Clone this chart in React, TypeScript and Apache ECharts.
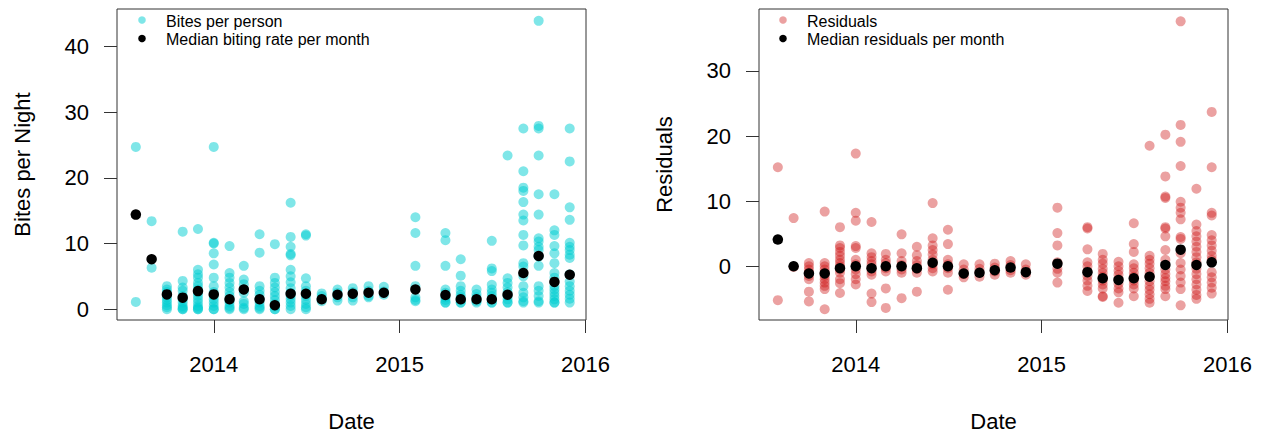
import React, { useEffect, useRef } from "react";
import * as echarts from "echarts";

// ---- data ----
const months = [
  "2013-08-01", "2013-09-01", "2013-10-01", "2013-11-01", "2013-12-01",
  "2014-01-01", "2014-02-01", "2014-03-01", "2014-04-01", "2014-05-01",
  "2014-06-01", "2014-07-01", "2014-08-01", "2014-09-01", "2014-10-01",
  "2014-11-01", "2014-12-01", "2015-02-01", "2015-04-01", "2015-05-01",
  "2015-06-01", "2015-07-01", "2015-08-01", "2015-09-01", "2015-10-01",
  "2015-11-01", "2015-12-01",
];

const bitesPerPerson: number[][] = [
  [24.7, 1.1],
  [13.4, 6.3],
  [3.5, 3.0, 2.6, 2.2, 1.8, 1.4, 1.0, 0.6, 0.3, 0],
  [11.8, 4.3, 3.3, 2.8, 2.0, 1.5, 1.0, 0.5, 0.2, 0, 0],
  [12.2, 6.0, 5.3, 4.8, 4.0, 3.5, 3.0, 2.5, 2.0, 1.5, 1.0, 0.5, 0.2, 0, 0],
  [24.7, 10.1, 10.0, 8.5, 6.8, 4.8, 3.5, 2.6, 2.0, 1.5, 1.0, 0.5, 0, 0],
  [9.6, 5.5, 4.8, 4.0, 3.3, 2.6, 2.0, 1.4, 1.0, 0.5, 0.2, 0],
  [6.6, 4.5, 3.8, 3.0, 2.5, 1.2, 0.8, 0.2, 0],
  [11.4, 8.6, 3.5, 2.8, 2.2, 1.6, 1.0, 0.5, 0.2, 0],
  [9.9, 4.8, 4.0, 3.3, 2.6, 2.0, 1.4, 0.8, 0.4, 0, 0],
  [16.2, 11.0, 9.5, 8.4, 8.2, 6.0, 5.0, 4.1, 3.2, 2.5, 2.0, 1.5, 1.0, 0.5, 0],
  [11.4, 11.2, 4.7, 3.5, 2.8, 2.0, 1.4, 0.8, 0.3, 0],
  [2.4, 2.0, 1.6, 1.2],
  [3.0, 2.5, 1.8, 1.3],
  [3.2, 2.6, 1.8, 1.3],
  [3.5, 2.8, 2.0, 1.8],
  [3.4, 2.7, 2.2],
  [14.0, 11.6, 6.6, 3.5, 1.8, 1.4, 1.2],
  [11.6, 10.5, 6.6, 3.0, 2.5, 1.8, 1.4, 1.0, 1.0],
  [7.6, 5.1, 3.5, 2.8, 2.2, 1.8, 1.4, 1.0, 1.0],
  [3.0, 2.3, 1.8, 1.2, 1.0],
  [10.4, 6.2, 5.8, 3.7, 3.0, 2.5, 2.0, 1.5, 1.0, 1.0],
  [23.4, 4.7, 4.0, 3.3, 2.6, 2.0, 1.5, 1.0, 1.0],
  [27.5, 21.0, 18.5, 18.0, 16.3, 14.4, 13.5, 11.3, 9.7, 7.0, 6.5, 5.0, 3.5, 2.5, 1.8, 1.2, 1.0],
  [43.9, 27.9, 27.5, 23.4, 17.5, 14.4, 10.8, 10.3, 9.5, 9.0, 8.0, 6.6, 3.5, 2.8, 2.0, 1.2, 1.0],
  [17.5, 12.0, 11.3, 9.6, 8.5, 7.0, 5.5, 4.8, 3.5, 3.0, 2.5, 2.0, 1.5, 1.0, 1.0],
  [27.5, 22.5, 15.5, 13.6, 10.1, 9.5, 9.0, 8.3, 7.8, 5.3, 4.2, 3.5, 2.8, 2.2, 1.6, 1.0],
];

const medianBitingRate = [
  14.4, 7.6, 2.25, 1.75, 2.75, 2.25, 1.5, 3.0, 1.5, 0.6, 2.35, 2.35, 1.5, 2.2,
  2.35, 2.5, 2.5, 3.0, 2.15, 1.5, 1.5, 1.5, 2.2, 5.5, 8.1, 4.15, 5.25,
];

const residuals: number[][] = [
  [15.2, -5.2],
  [7.4, -0.1],
  [0.5, 0, -0.5, -1.0, -1.5, -2.0, -3.9, -5.4],
  [8.4, 0.5, 0, -0.5, -1.0, -1.5, -2.0, -2.5, -3.0, -3.5, -6.6],
  [6.0, 3.2, 2.8, 2.2, 1.6, 1.0, 0.5, 0, -0.5, -1.0, -2.0, -2.6, -4.1],
  [17.3, 8.2, 7.0, 3.1, 2.8, 1.0, 0.3, -0.5, -1.2, -2.0, -2.8],
  [6.8, 2.0, 1.4, 0.8, 0.3, -0.3, -0.8, -1.3, -4.2, -5.5],
  [1.9, 1.0, 0.5, -0.3, -0.8, -3.4, -6.4],
  [4.9, 2.0, 0.8, 0.2, -0.5, -1.0, -4.9],
  [3.0, 1.7, 0.8, 0.2, -0.4, -1.0, -3.9],
  [9.7, 4.3, 3.2, 2.5, 1.8, 1.0, 0.3, -0.3, -0.8],
  [5.6, 3.4, 1.0, 0.3, -0.3, -1.0, -3.6],
  [0.3, -0.5, -1.2, -1.7],
  [0.3, -0.4, -1.0, -1.6],
  [0.4, -0.2, -0.8, -1.3],
  [0.8, 0.2, -0.6, -1.0],
  [0.3, -0.5, -1.3],
  [9.0, 5.1, 3.2, 0.6, -0.4, -1.0, -2.5],
  [6.0, 5.8, 2.6, 0.6, 0, -0.8, -1.5, -2.2, -3.0, -3.8],
  [1.9, 1.0, 0.4, -0.4, -1.0, -1.6, -2.2, -2.8, -3.4, -4.6, -4.7],
  [0.7, 0, -0.7, -1.3, -2.0, -2.7, -3.4, -4.0, -5.6],
  [6.6, 3.4, 2.2, 0.3, -0.3, -1.0, -1.6, -2.2, -2.8, -3.4, -4.6],
  [18.5, 1.6, 1.0, 0.4, -0.3, -1.0, -1.6, -2.3, -3.0, -3.6, -4.3, -5.0, -5.6],
  [20.2, 13.8, 10.7, 10.5, 6.0, 5.8, 4.6, 2.5, 1.0, -0.5, -1.2, -1.8, -2.3, -3.0, -3.5, -4.6],
  [37.6, 21.7, 19.1, 15.4, 9.9, 9.0, 8.2, 7.2, 4.5, 4.2, 2.0, 0.5, -0.5, -1.5, -2.5, -3.5, -6.0],
  [11.9, 6.4, 5.4, 4.6, 3.8, 3.0, 2.2, 1.4, 0.6, -0.4, -1.2, -2.0, -2.8, -3.6, -4.4, -5.0],
  [23.7, 15.2, 8.2, 7.8, 4.8, 4.0, 3.2, 2.4, 1.6, 1.0, -0.9, -1.7, -2.5, -3.3, -4.2],
];

const medianResiduals = [
  4.1, 0.0, -1.1, -1.1, -0.3, 0.0, -0.3, 0.0, 0.0, -0.3, 0.55, 0.0, -1.1, -1.0,
  -0.6, -0.2, -0.9, 0.4, -0.9, -1.85, -2.1, -1.85, -1.6, 0.2, 2.55, 0.2, 0.6,
];

const yearTicks = ["2014-01-01", "2015-01-01", "2016-01-01"];
const biteTicks = [0, 10, 20, 30, 40];
const residualTicks = [0, 10, 20, 30];

// ---- styling ----
const FONT = "'Liberation Sans', Arial, Helvetica, sans-serif";
const CYAN = "rgba(0, 206, 209, 0.5)";
const RED = "rgba(205, 20, 20, 0.4)";
const BOX = "#333";

const ts = (d: string) => Date.parse(d + "T00:00:00Z");

const scatterData = (groups: number[][]) =>
  groups.flatMap((vals, i) => vals.map((v) => [ts(months[i]), v]));
const medianData = (vals: number[]) => vals.map((v, i) => [ts(months[i]), v]);

function makeXAxis(gridIndex: number) {
  const ticks = yearTicks.map(ts);
  return {
    type: "value",
    gridIndex,
    min: ts("2013-06-25"),
    max: ts("2016-01-02"),
    name: "Date",
    nameLocation: "middle",
    nameGap: 90,
    nameTextStyle: { fontFamily: FONT, fontSize: 22, color: "#000" },
    axisLine: { show: false, onZero: false },
    axisTick: { show: true, length: 13, customValues: ticks, lineStyle: { color: BOX, width: 1 } },
    axisLabel: {
      customValues: ticks,
      formatter: (v: number) => String(new Date(v).getUTCFullYear()),
      fontFamily: FONT,
      fontSize: 22,
      color: "#000",
      margin: 33,
    },
    splitLine: { show: false },
  };
}

function makeYAxis(gridIndex: number, name: string, min: number, max: number, ticks: number[]) {
  return {
    type: "value",
    gridIndex,
    min,
    max,
    name,
    nameLocation: "middle",
    nameGap: 84,
    nameTextStyle: { fontFamily: FONT, fontSize: 22, color: "#000" },
    axisLine: { show: false, onZero: false },
    axisTick: { show: true, length: 13, customValues: ticks, lineStyle: { color: BOX, width: 1 } },
    axisLabel: {
      customValues: ticks,
      fontFamily: FONT,
      fontSize: 22,
      color: "#000",
      margin: 28,
    },
    splitLine: { show: false },
  };
}

function legendGraphics(x: number, color: string, label1: string, label2: string) {
  const textStyle = {
    font: `16px ${FONT}`,
    fill: "#000",
    verticalAlign: "middle",
    align: "left",
  };
  return [
    { type: "circle", shape: { cx: x, cy: 20, r: 3.8 }, style: { fill: color } },
    { type: "circle", shape: { cx: x, cy: 38.5, r: 3.8 }, style: { fill: "#000" } },
    { type: "text", x: x + 24, y: 21, style: { ...textStyle, text: label1 } },
    { type: "text", x: x + 24, y: 39.5, style: { ...textStyle, text: label2 } },
  ];
}

export default function App() {
  const ref = useRef<HTMLDivElement>(null);

  useEffect(() => {
    if (!ref.current) return;
    const chart = echarts.init(ref.current, null, { renderer: "svg" });
    chart.setOption({
      animation: false,
      backgroundColor: "#fff",
      textStyle: { fontFamily: FONT },
      grid: [
        { left: 117, right: 680, top: 9, bottom: 113, show: true, borderColor: BOX, borderWidth: 1, backgroundColor: "transparent" },
        { left: 759, right: 38, top: 9, bottom: 113, show: true, borderColor: BOX, borderWidth: 1, backgroundColor: "transparent" },
      ],
      xAxis: [makeXAxis(0), makeXAxis(1)],
      yAxis: [
        makeYAxis(0, "Bites per Night", -1.65, 45.7, biteTicks),
        makeYAxis(1, "Residuals", -8.25, 39.5, residualTicks),
      ],
      series: [
        {
          name: "Bites per person",
          type: "scatter",
          xAxisIndex: 0,
          yAxisIndex: 0,
          symbol: "circle",
          symbolSize: 10,
          itemStyle: { color: CYAN, opacity: 1 },
          data: scatterData(bitesPerPerson),
          z: 2,
        },
        {
          name: "Median biting rate per month",
          type: "scatter",
          xAxisIndex: 0,
          yAxisIndex: 0,
          symbol: "circle",
          symbolSize: 10.5,
          itemStyle: { color: "#000", opacity: 1 },
          data: medianData(medianBitingRate),
          z: 3,
        },
        {
          name: "Residuals",
          type: "scatter",
          xAxisIndex: 1,
          yAxisIndex: 1,
          symbol: "circle",
          symbolSize: 10,
          itemStyle: { color: RED, opacity: 1 },
          data: scatterData(residuals),
          z: 2,
        },
        {
          name: "Median residuals per month",
          type: "scatter",
          xAxisIndex: 1,
          yAxisIndex: 1,
          symbol: "circle",
          symbolSize: 10.5,
          itemStyle: { color: "#000", opacity: 1 },
          data: medianData(medianResiduals),
          z: 3,
        },
      ],
      graphic: [
        ...legendGraphics(142, CYAN, "Bites per person", "Median biting rate per month"),
        ...legendGraphics(783, RED, "Residuals", "Median residuals per month"),
      ],
    });
    return () => chart.dispose();
  }, []);

  return (
    <div
      ref={ref}
      style={{ position: "absolute", left: 0, top: 0, width: 1266, height: 437, background: "#fff" }}
    />
  );
}
